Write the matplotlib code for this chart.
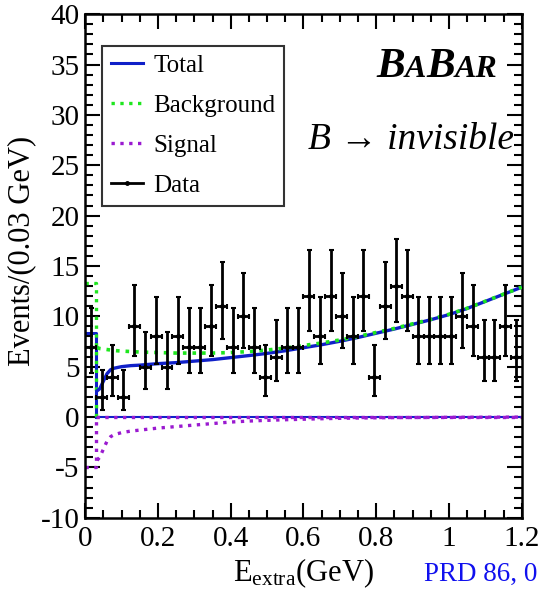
import numpy as np
import matplotlib
matplotlib.use('Agg')
import matplotlib.pyplot as plt
from matplotlib.ticker import MultipleLocator
from matplotlib.offsetbox import TextArea, HPacker, AnnotationBbox
from matplotlib.lines import Line2D

plt.rcParams['font.family'] = ['Liberation Serif', 'DejaVu Serif']
plt.rcParams['mathtext.fontset'] = 'custom'
plt.rcParams['mathtext.rm'] = 'Liberation Serif'
plt.rcParams['mathtext.it'] = 'Liberation Serif:italic'
plt.rcParams['axes.unicode_minus'] = False

# ---------------- datos ----------------
bin_width = 0.03
bin_centers = np.arange(0.015, 1.2, bin_width)
counts = [7, 2, 4, 2, 9, 5, 8, 5, 8, 7, 7, 9, 11, 7, 10, 7, 4, 6, 7, 7,
          12, 8, 12, 10, 8, 12, 4, 11, 13, 12, 8, 8, 8, 8, 10, 9, 6, 6, 9, 6]

# errores de Poisson (asimetricos) por numero de eventos
err_lo = {2: 1.32, 4: 1.94, 5: 2.18, 6: 2.40, 7: 2.60, 8: 2.78, 9: 2.96,
          10: 3.12, 11: 3.28, 12: 3.43, 13: 3.57}
err_hi = {2: 2.66, 4: 3.18, 5: 3.40, 6: 3.60, 7: 3.78, 8: 3.96, 9: 4.12,
          10: 4.28, 11: 4.43, 12: 4.57, 13: 4.71}

# curvas del ajuste (primer bin constante, luego curva continua)
bkg_first = 13.3
sig_first = -5.0
curve_x = [0.033, 0.04, 0.05, 0.06, 0.07, 0.08, 0.10, 0.125, 0.15, 0.20, 0.25,
           0.30, 0.35, 0.40, 0.45, 0.50, 0.55, 0.60, 0.65, 0.70, 0.75, 0.80,
           0.85, 0.90, 0.95, 1.00, 1.05, 1.10, 1.15, 1.20]
bkg_curve = [6.9, 6.8, 6.75, 6.7, 6.65, 6.6, 6.55, 6.5, 6.45, 6.4, 6.35,
             6.35, 6.35, 6.4, 6.5, 6.65, 6.85, 7.1, 7.35, 7.65, 8.0, 8.4,
             8.8, 9.25, 9.7, 10.2, 10.8, 11.5, 12.2, 12.9]
sig_curve = [-4.3, -4.0, -3.2, -2.4, -1.95, -1.75, -1.55, -1.4, -1.3, -1.1, -0.95,
             -0.8, -0.65, -0.5, -0.4, -0.33, -0.27, -0.22, -0.17, -0.13, -0.1, -0.08,
             -0.06, -0.05, -0.04, -0.03, -0.02, -0.02, -0.01, -0.01]

c_total = '#1020c8'
c_bkg = '#1ee61e'
c_sig = '#9a1ad0'

# ---------------- figura ----------------
fig = plt.figure(figsize=(5.39, 5.91), dpi=100)
ax = fig.add_axes([0.158, 0.124, 0.810, 0.852])

tot_first = bkg_first + sig_first
tot_curve = np.array(bkg_curve) + np.array(sig_curve)
x_max = 1.2

# total
ax.plot([0, bin_width, bin_width], [tot_first, tot_first, 0], color=c_total, lw=2.2)
ax.plot([bin_width, x_max], [0, 0], color=c_total, lw=1.5)
ax.plot(curve_x, tot_curve, color=c_total, lw=2.4, zorder=3)
# fondo
ax.plot([0, bin_width, bin_width], [bkg_first, bkg_first, 0], color=c_bkg, lw=2.4, ls=':')
ax.plot(curve_x, bkg_curve, color=c_bkg, lw=2.6, ls=':', zorder=4)
# senal
ax.plot([0, bin_width, bin_width], [sig_first, sig_first, 0], color=c_sig, lw=2.4, ls=':')
ax.plot([bin_width, x_max], [0, 0], color=c_sig, lw=2.4, ls=':')
ax.plot(curve_x, sig_curve, color=c_sig, lw=2.4, ls=':')

# datos
yerr = [[err_lo[n] for n in counts], [err_hi[n] for n in counts]]
ax.errorbar(bin_centers, counts, xerr=bin_width / 2, yerr=yerr, fmt='o',
            color='black', ms=2.5, elinewidth=2.0, capsize=1.8, capthick=1.5, zorder=5)

ax.set_xlim(0, 1.2)
ax.set_ylim(-10, 40)
ax.xaxis.set_minor_locator(MultipleLocator(0.05))
ax.yaxis.set_major_locator(MultipleLocator(5))
ax.yaxis.set_minor_locator(MultipleLocator(1))
ax.set_xticks([0, 0.2, 0.4, 0.6, 0.8, 1.0, 1.2])
ax.set_xticklabels(['0', '0.2', '0.4', '0.6', '0.8', '1', '1.2'])
ax.tick_params(which='both', direction='in', top=True, right=True, labelsize=21, width=1.5)
ax.tick_params(which='major', length=11, pad=6)
ax.tick_params(which='minor', length=6)
ax.tick_params(axis='y', which='major', pad=4)
for s in ax.spines.values():
    s.set_linewidth(1.8)

ax.set_ylabel('Events/(0.03 GeV)', fontsize=22)
ax.yaxis.set_label_coords(-0.112, 0.53)
ax.set_xlabel(r'E$_{\mathrm{extra}}$(GeV)', fontsize=22)
ax.xaxis.set_label_coords(0.5, -0.077)

fig.text(424 / 539, 1 - 581 / 591, 'PRD 86, 0', color='#1010ee',
         fontsize=19.5, va='baseline', ha='left')

# leyenda
handles = [Line2D([], [], color=c_total, lw=2.2),
           Line2D([], [], color=c_bkg, lw=2.4, ls=':'),
           Line2D([], [], color=c_sig, lw=2.4, ls=':'),
           Line2D([], [], color='black', lw=2.0, marker='o', ms=2.5)]
leg = ax.legend(handles, ['Total', 'Background', 'Signal', 'Data'],
                loc='upper left', bbox_to_anchor=(0.039, 0.937), fontsize=18,
                frameon=True, fancybox=False, edgecolor='black',
                handlelength=1.3, handletextpad=0.4, labelspacing=0.7,
                borderpad=0.35, borderaxespad=0)
leg.get_frame().set_linewidth(1.5)

# logo BaBar
bold_it = dict(fontweight='bold', fontstyle='italic', color='black')
pieces = [TextArea('B', textprops=dict(fontsize=31, **bold_it)),
          TextArea('A', textprops=dict(fontsize=23, **bold_it)),
          TextArea('B', textprops=dict(fontsize=31, **bold_it)),
          TextArea('AR', textprops=dict(fontsize=23, **bold_it))]
logo = HPacker(children=pieces, align='baseline', pad=0, sep=0)
ax.add_artist(AnnotationBbox(logo, (0.945, 0.933), xycoords='axes fraction',
                             box_alignment=(1, 1), frameon=False))

ax.text(0.982, 0.75, 'B → invisible', transform=ax.transAxes, fontsize=27,
        fontstyle='italic', ha='right', va='center')

fig.savefig('out.png', dpi=100)
